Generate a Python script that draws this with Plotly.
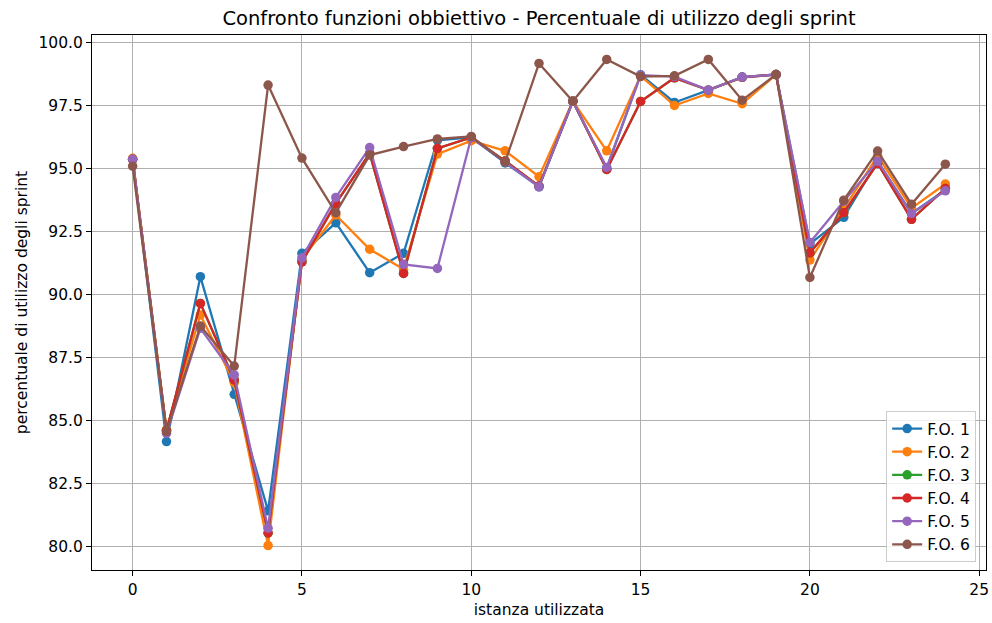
import plotly.graph_objects as go

istanze = list(range(25))

fo1 = [95.36, 84.15, 90.70, 86.03, 81.40, 91.63, 92.84, 90.86, 91.63, 96.12, 96.23, 95.22, 94.27,
       97.67, 95.00, 98.72, 97.62, 98.11, 98.63, 98.73, 92.00, 93.06, 95.29, 93.21, 94.15]
fo2 = [95.40, 84.62, 89.18, 86.49, 80.02, 91.40, 93.15, 91.79, 91.00, 95.57, 96.10, 95.70, 94.67,
       97.67, 95.70, 98.68, 97.50, 97.98, 97.57, 98.73, 91.36, 93.40, 95.50, 93.42, 94.38]
fo3 = [95.36, 84.60, 89.64, 86.60, 80.52, 91.29, 93.61, 95.60, 90.83, 95.80, 96.23, 95.30, 94.30,
       97.67, 94.96, 97.66, 98.60, 98.11, 98.62, 98.73, 91.65, 93.24, 95.20, 92.98, 94.20]
fo4 = [95.36, 84.60, 89.64, 86.60, 80.52, 91.29, 93.61, 95.60, 90.83, 95.80, 96.23, 95.30, 94.30,
       97.67, 94.96, 97.66, 98.60, 98.11, 98.62, 98.73, 91.65, 93.24, 95.20, 92.98, 94.20]
fo5 = [95.36, 84.48, 88.65, 86.80, 80.71, 91.45, 93.85, 95.83, 91.19, 91.03, 96.23, 95.25, 94.27,
       97.67, 95.04, 98.70, 98.65, 98.11, 98.63, 98.73, 92.06, 93.70, 95.29, 93.21, 94.11]
fo6 = [95.09, 84.55, 88.74, 87.15, 98.31, 95.41, 93.24, 95.53, 95.87, 96.17, 96.27, 95.26, 99.17,
       97.67, 99.33, 98.65, 98.68, 99.33, 97.71, 98.73, 90.67, 93.74, 95.69, 93.58, 95.17]

nomi = ["F.O. 1", "F.O. 2", "F.O. 3", "F.O. 4", "F.O. 5", "F.O. 6"]
serie = [fo1, fo2, fo3, fo4, fo5, fo6]
colori = ["#1f77b4", "#ff7f0e", "#2ca02c", "#d62728", "#9467bd", "#8c564b"]

x_ticks = [0, 5, 10, 15, 20, 25]
y_ticks = [80.0, 82.5, 85.0, 87.5, 90.0, 92.5, 95.0, 97.5, 100.0]

fig = go.Figure()
for nome, valori, colore in zip(nomi, serie, colori):
    fig.add_trace(go.Scatter(
        x=istanze, y=valori, name=nome, mode="lines+markers",
        line=dict(color=colore, width=2.3),
        marker=dict(color=colore, size=9.5),
    ))

font_family = "DejaVu Sans"
fs = 15.5
fig.update_layout(
    width=992, height=623,
    margin=dict(l=92, r=3, t=35, b=53),
    paper_bgcolor="white", plot_bgcolor="white",
    font=dict(family=font_family, size=fs, color="#262626"),
    title=dict(text="Confronto funzioni obbiettivo - Percentuale di utilizzo degli sprint",
               x=0.5, xref="paper", xanchor="center",
               y=1 - 18 / 623, yref="container", yanchor="middle",
               font=dict(family=font_family, size=19.5, color="black")),
    showlegend=True,
    legend=dict(x=0.989, y=0.015, xanchor="right", yanchor="bottom",
                bgcolor="rgba(255,255,255,0.8)", bordercolor="#cccccc", borderwidth=1,
                font=dict(family=font_family, size=fs, color="black")),
)
fig.update_xaxes(
    range=[-1.2, 25.2], tickvals=x_ticks, ticktext=[str(t) for t in x_ticks],
    ticklabeloverflow="allow",
    showgrid=True, gridcolor="#b0b0b0", gridwidth=1.2,
    showline=True, linecolor="black", linewidth=1.2, mirror=True,
    ticks="outside", ticklen=5, tickwidth=1.2, tickcolor="black",
    zeroline=False,
    tickfont=dict(family=font_family, size=fs, color="black"),
    title=dict(text="istanza utilizzata", standoff=6,
               font=dict(family=font_family, size=fs, color="black")),
)
fig.update_yaxes(
    range=[79.05, 100.30], tickvals=y_ticks, ticktext=[f"{t:.1f}" for t in y_ticks],
    ticklabeloverflow="allow",
    showgrid=True, gridcolor="#b0b0b0", gridwidth=1.2,
    showline=True, linecolor="black", linewidth=1.2, mirror=True,
    ticks="outside", ticklen=5, tickwidth=1.2, tickcolor="black",
    zeroline=False,
    tickfont=dict(family=font_family, size=fs, color="black"),
    title=dict(text="percentuale di utilizzo degli sprint", standoff=6,
               font=dict(family=font_family, size=fs, color="black")),
)

fig.write_html("out.html")
